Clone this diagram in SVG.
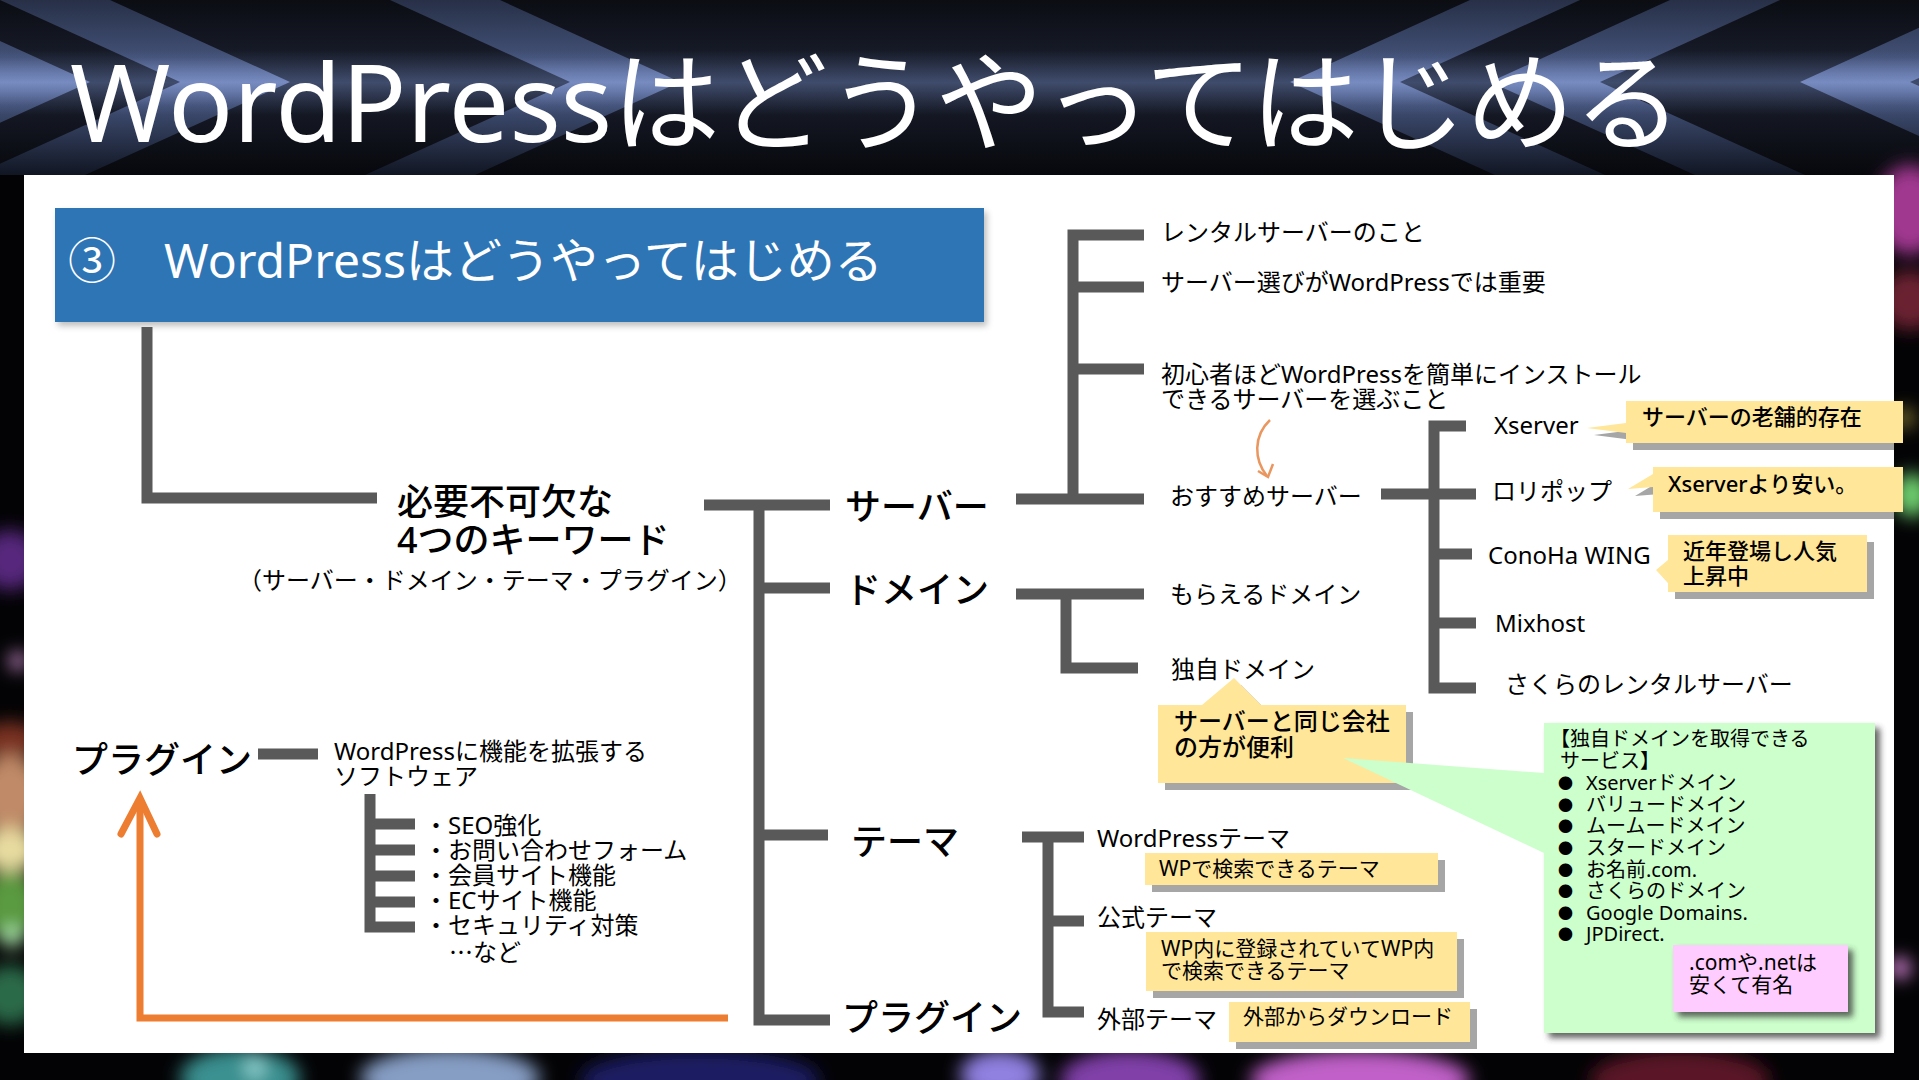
<svg xmlns="http://www.w3.org/2000/svg" width="1919" height="1080" viewBox="0 0 1919 1080">
<defs>
<style>
.t{font-family:"Noto Sans","Noto Sans CJK JP",sans-serif;fill:#000}
.j{font-family:"Noto Sans CJK JP","Noto Sans",sans-serif;fill:#000}
.s24{font-size:24px}
.s36{font-size:36px;font-weight:500}
.s22{font-size:22px;font-weight:500}
.s21{font-size:21px}
.s20{font-size:20px}
.ln{fill:none;stroke:#595959;stroke-width:11;stroke-linejoin:miter;stroke-linecap:butt}
.or{fill:none;stroke:#ED7D31;stroke-width:7;stroke-linejoin:miter}
.yel{fill:#FFE699}
.sh{fill:#A6A6A6}
.chev{fill:url(#chev);opacity:0.85}
</style>
<linearGradient id="topbg" x1="0" y1="0" x2="0" y2="175" gradientUnits="userSpaceOnUse">
<stop offset="0" stop-color="#0b0d13"/>
<stop offset="0.45" stop-color="#1c2131"/>
<stop offset="1" stop-color="#07080c"/>
</linearGradient>
<linearGradient id="chev" x1="0" y1="0" x2="0" y2="175" gradientUnits="userSpaceOnUse">
<stop offset="0" stop-color="#2c3650"/>
<stop offset="0.33" stop-color="#4a5a84"/>
<stop offset="0.47" stop-color="#8599d2"/>
<stop offset="0.6" stop-color="#485882"/>
<stop offset="1" stop-color="#121826"/>
</linearGradient>
<linearGradient id="glowband" x1="0" y1="50" x2="0" y2="115" gradientUnits="userSpaceOnUse">
<stop offset="0" stop-color="#7088c0" stop-opacity="0"/>
<stop offset="0.5" stop-color="#7a92cc" stop-opacity="0.7"/>
<stop offset="1" stop-color="#7088c0" stop-opacity="0"/>
</linearGradient>
<filter id="blur" x="-50%" y="-50%" width="200%" height="200%"><feGaussianBlur stdDeviation="9"/></filter>
<filter id="soft" x="-10%" y="-10%" width="130%" height="130%"><feGaussianBlur stdDeviation="3"/></filter>
<clipPath id="topclip"><rect x="0" y="0" width="1919" height="175"/></clipPath>
<clipPath id="panelclip"><rect x="24" y="175" width="1870" height="878"/></clipPath>
</defs>

<rect width="1919" height="1080" fill="#030305"/>
<g id="top-band" clip-path="url(#topclip)">
<rect width="1919" height="175" fill="url(#topbg)"/>
<polygon class="chev" points="-90,0 90,82 -115,175 -225,175 -20,82 -200,0"/>
<polygon class="chev" points="110,0 290,82 85,175 -25,175 180,82 0,0"/>
<polygon class="chev" points="500,0 680,82 475,175 365,175 570,82 390,0"/>
<polygon class="chev" points="1470,0 1290,82 1495,175 1605,175 1400,82 1580,0"/>
<polygon class="chev" points="1670,0 1490,82 1695,175 1805,175 1600,82 1780,0"/>
<polygon class="chev" points="1980,0 1800,82 2005,175 2115,175 1910,82 2090,0"/>
<rect x="0" y="50" width="1919" height="65" fill="url(#glowband)" opacity="0.55"/>
</g>
<g id="bokeh" filter="url(#blur)">
<ellipse cx="10" cy="560" rx="30" ry="30" fill="#6a2e9a" opacity="0.8"/>
<circle cx="18" cy="661" r="8" fill="#ffb0ff"/>
<ellipse cx="10" cy="740" rx="30" ry="18" fill="#7a3020"/>
<ellipse cx="10" cy="795" rx="35" ry="40" fill="#c08a68"/>
<ellipse cx="10" cy="850" rx="30" ry="22" fill="#e8dca0"/>
<ellipse cx="10" cy="905" rx="30" ry="35" fill="#5a9a40"/>
<circle cx="12" cy="937" r="10" fill="#c0ffc0"/>
<ellipse cx="10" cy="995" rx="30" ry="30" fill="#2a6a48"/>
<ellipse cx="1910" cy="210" rx="35" ry="45" fill="#a03890"/>
<ellipse cx="1910" cy="300" rx="30" ry="30" fill="#6a2030"/>
<circle cx="1905" cy="418" r="10" fill="#8a7a30"/>
<ellipse cx="1912" cy="495" rx="18" ry="22" fill="#70d070"/>
<circle cx="1900" cy="968" r="10" fill="#ffa0ff"/>
<ellipse cx="240" cy="1078" rx="60" ry="30" fill="#3a9090"/>
<circle cx="255" cy="1068" r="8" fill="#b0f0f0"/>
<ellipse cx="450" cy="1078" rx="90" ry="30" fill="#a8c4f4" opacity="0.8"/>
<ellipse cx="700" cy="1080" rx="120" ry="30" fill="#1c1c64"/>
<ellipse cx="1000" cy="1075" rx="40" ry="25" fill="#9080e0"/>
<ellipse cx="1130" cy="1080" rx="70" ry="30" fill="#8040a8"/>
<ellipse cx="1360" cy="1080" rx="110" ry="30" fill="#c060c8"/>
<ellipse cx="1680" cy="1080" rx="90" ry="30" fill="#5a1428"/>
</g>
<text x="70" y="142" font-family="Noto Sans, Noto Sans CJK JP, sans-serif" font-size="108" fill="#ffffff" textLength="1612" lengthAdjust="spacing">WordPressはどうやってはじめる</text>

<rect id="panel" x="24" y="175" width="1870" height="878" fill="#ffffff"/>

<g id="n-header">
<rect x="58" y="212" width="929" height="114" fill="#7f7f7f" opacity="0.5" filter="url(#soft)"/>
<rect x="55" y="208" width="929" height="114" fill="#2E75B6"/>
<text x="68" y="278" class="t" font-size="48" style="fill:#fff">③　WordPressはどうやってはじめる</text>
</g>

<g id="connectors">
<path class="ln" d="M147,327 V498 H377"/>
<path class="ln" d="M704,505 H830 M759,505 V1020 H830 M759,588 H830 M759,835 H828"/>
<path class="ln" d="M1016,499 H1144 M1144,235 H1073 V499 M1073,287 H1144 M1073,369 H1144"/>
<path class="ln" d="M1381,494 H1476 M1466,426 H1434 V688 H1476 M1434,554 H1472 M1434,623 H1476"/>
<path class="ln" d="M1016,594 H1144 M1066,594 V668 H1138"/>
<path class="ln" d="M1022,837 H1084 M1048,837 V1012 H1084 M1048,921 H1084"/>
<path class="ln" d="M258,754 H318 M370,794 V927 H415 M370,824 H415 M370,850 H415 M370,876 H415 M370,902 H415"/>
<path class="or" d="M728,1018 H140 V799"/>
<path class="or" d="M121,834 L140,798 L157,834" style="stroke-linecap:round"/>
<path d="M1270,420 C1253,436 1254,460 1267,476" fill="none" stroke="#E9965F" stroke-width="2.5"/>
<path d="M1258,471 L1268,477 L1273,464" fill="none" stroke="#E9965F" stroke-width="2.5"/>
</g>

<g id="n-keywords">
<text x="397" y="515" class="t s36">必要不可欠な</text>
<text x="397" y="553" class="t s36">4つのキーワード</text>
<text x="238" y="589" class="t s24">（サーバー・ドメイン・テーマ・プラグイン）</text>
</g>
<g id="n-server"><text x="845" y="520" class="t s36">サーバー</text></g>
<g id="n-domain"><text x="845" y="603" class="t s36">ドメイン</text></g>
<g id="n-theme"><text x="851" y="855" class="t s36">テーマ</text></g>
<g id="n-plugin"><text x="842" y="1031" class="t s36">プラグイン</text></g>

<g id="n-server-items">
<text x="1161" y="241" class="t s24">レンタルサーバーのこと</text>
<text x="1161" y="291" class="t s24">サーバー選びがWordPressでは重要</text>
<text x="1161" y="383" class="t s24">初心者ほどWordPressを簡単にインストール</text>
<text x="1161" y="408" class="t s24">できるサーバーを選ぶこと</text>
</g>
<g id="n-recommend"><text x="1170" y="505" class="t s24">おすすめサーバー</text></g>
<g id="n-xserver"><text x="1494" y="434" class="t s24">Xserver</text></g>
<g id="n-lolipop"><text x="1492" y="500" class="t s24">ロリポップ</text></g>
<g id="n-conoha"><text x="1488" y="564" class="t s24">ConoHa WING</text></g>
<g id="n-mixhost"><text x="1495" y="632" class="t s24">Mixhost</text></g>
<g id="n-sakura"><text x="1505" y="693" class="t s24">さくらのレンタルサーバー</text></g>

<g id="c-xserver">
<path class="sh" clip-path="url(#panelclip)" d="M1633,408 H1910 V450 H1633 V440 L1594,435 L1633,430 Z"/>
<path class="yel" d="M1626,401 H1903 V443 H1626 V433 L1587,428 L1626,423 Z"/>
<text x="1642" y="425" class="t s22">サーバーの老舗的存在</text>
</g>
<g id="c-lolipop">
<path class="sh" clip-path="url(#panelclip)" d="M1660,474 H1910 V519 H1660 V494 L1635,496 L1660,481 Z"/>
<path class="yel" d="M1653,467 H1903 V512 H1653 V487 L1628,489 L1653,474 Z"/>
<text x="1668" y="492" class="t s22">Xserverより安い。</text>
</g>
<g id="c-conoha">
<path class="sh" d="M1675,542 H1874 V599 H1675 V590 L1663,577 L1675,567 Z"/>
<path class="yel" d="M1668,535 H1867 V592 H1668 V583 L1656,570 L1668,560 Z"/>
<text x="1683" y="559" class="t s22">近年登場し人気</text>
<text x="1683" y="584" class="t s22">上昇中</text>
</g>

<g id="n-free-domain"><text x="1170" y="603" class="t s24">もらえるドメイン</text></g>
<g id="n-own-domain"><text x="1171" y="678" class="t s24">独自ドメイン</text></g>
<g id="c-own-domain">
<path class="sh" d="M1165,712 H1209 L1241,685 L1268,712 H1413 V790 H1165 Z"/>
<path class="yel" d="M1158,705 H1202 L1234,678 L1261,705 H1406 V783 H1158 Z"/>
<text x="1174" y="730" class="t s24" font-weight="500">サーバーと同じ会社</text>
<text x="1174" y="756" class="t s24" font-weight="500">の方が便利</text>
</g>

<g id="c-services">
<rect x="1549" y="728" width="331" height="310" fill="#303030" opacity="0.75" filter="url(#soft)"/>
<path d="M1544,723 H1875 V1033 H1544 V853 L1343,758 L1544,773 Z" fill="#CCFFCC"/>
<text x="1550" y="746" class="t s20">【独自ドメインを取得できる</text>
<text x="1560" y="768" class="t s20">サービス】</text>
<g class="j" font-size="15">
<text x="1558" y="789">●</text><text x="1558" y="811">●</text><text x="1558" y="832">●</text><text x="1558" y="854">●</text>
<text x="1558" y="876">●</text><text x="1558" y="897">●</text><text x="1558" y="919">●</text><text x="1558" y="940">●</text>
</g>
<text x="1586" y="790" class="t s20">Xserverドメイン</text>
<text x="1586" y="812" class="t s20">バリュードメイン</text>
<text x="1586" y="833" class="t s20">ムームードメイン</text>
<text x="1586" y="855" class="t s20">スタードメイン</text>
<text x="1586" y="877" class="t s20">お名前.com.</text>
<text x="1586" y="898" class="t s20">さくらのドメイン</text>
<text x="1586" y="920" class="t s20">Google Domains.</text>
<text x="1586" y="941" class="t s20">JPDirect.</text>
</g>
<g id="c-com-net">
<rect x="1678" y="950" width="175" height="67" fill="#303030" opacity="0.75" filter="url(#soft)"/>
<rect x="1673" y="945" width="175" height="67" fill="#FFCCFF"/>
<text x="1689" y="970" class="t s21">.comや.netは</text>
<text x="1689" y="992" class="t s21">安くて有名</text>
</g>

<g id="n-wp-theme"><text x="1097" y="847" class="t s24">WordPressテーマ</text></g>
<g id="c-wp-theme">
<rect class="sh" x="1152" y="860" width="293" height="32"/>
<rect class="yel" x="1145" y="853" width="293" height="32"/>
<text x="1159" y="876" class="t s21">WPで検索できるテーマ</text>
</g>
<g id="n-official-theme"><text x="1097" y="926" class="t s24">公式テーマ</text></g>
<g id="c-official-theme">
<rect class="sh" x="1153" y="939" width="311" height="59"/>
<rect class="yel" x="1146" y="932" width="311" height="59"/>
<text x="1161" y="956" class="t s21">WP内に登録されていてWP内</text>
<text x="1161" y="978" class="t s21">で検索できるテーマ</text>
</g>
<g id="n-external-theme"><text x="1097" y="1028" class="t s24">外部テーマ</text></g>
<g id="c-external-theme">
<rect class="sh" x="1236" y="1009" width="241" height="40"/>
<rect class="yel" x="1229" y="1002" width="241" height="40"/>
<text x="1243" y="1024" class="t s21">外部からダウンロード</text>
</g>

<g id="n-plugin-left"><text x="72" y="773" class="t s36">プラグイン</text></g>
<g id="n-plugin-desc">
<text x="334" y="760" class="t s24">WordPressに機能を拡張する</text>
<text x="334" y="785" class="t s24">ソフトウェア</text>
</g>
<g id="n-plugin-list">
<text x="424" y="834" class="t s24">・SEO強化</text>
<text x="424" y="859" class="t s24">・お問い合わせフォーム</text>
<text x="424" y="884" class="t s24">・会員サイト機能</text>
<text x="424" y="909" class="t s24">・ECサイト機能</text>
<text x="424" y="934" class="t s24">・セキュリティ対策</text>
<text x="449" y="961" class="j s24">…など</text>
</g>
</svg>
